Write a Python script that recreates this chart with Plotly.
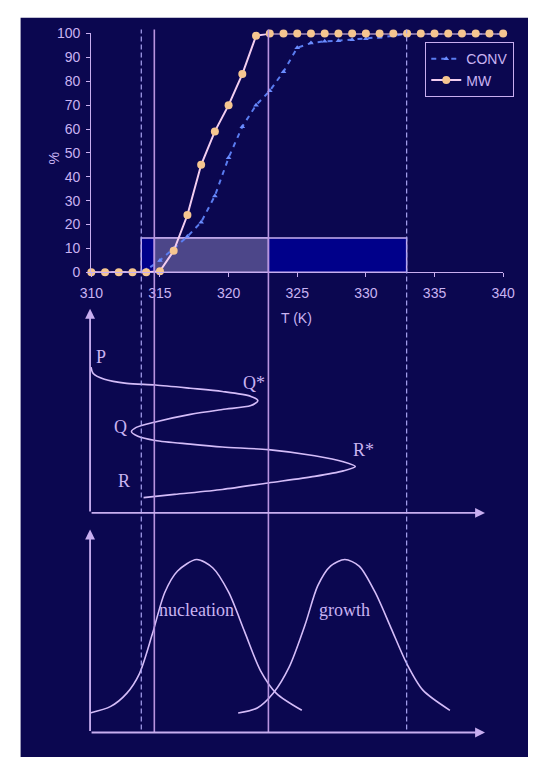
import plotly.graph_objects as go

# ---------------- data ----------------
temps = list(range(310, 341))
mw = [0, 0, 0, 0, 0, 0.5, 9, 24, 45, 59, 70, 83, 99,
      100, 100, 100, 100, 100, 100, 100, 100, 100, 100, 100, 100, 100, 100, 100, 100, 100, 100]
conv = [0, 0, 0, 0, 1, 5, 10, 15, 21, 32, 48, 61, 70, 76, 84, 94,
        96, 96.7, 97, 97.4, 97.8, 98.4, 99, 100, 100, 100, 100, 100, 100, 100, 100]

x_ticks = [310, 315, 320, 325, 330, 335, 340]
y_ticks = list(range(0, 101, 10))

# temperature markers (K)
dashed_T = [313.64, 332.97]
solid_T = [314.59, 322.9]
window_T = [313.64, 332.97]
overlay_T = [314.59, 322.9]
window_height = 14.4

# schematic energy profile (energy, reaction coordinate) – arbitrary units
rc_energy = [0.024, 0.080, 0.363, 0.927, 1.653, 2.540, 3.347, 4.073, 4.249, 4.073, 3.347,
             2.540, 1.653, 1.169, 1.048, 1.210, 1.653, 2.540, 3.347, 4.515, 5.686, 6.412,
             6.717, 6.412, 5.686, 4.515, 3.347, 2.136, 1.355]
rc_coord = [7.15, 6.83, 6.55, 6.35, 6.27, 6.11, 5.95, 5.71, 5.50, 5.26, 5.07,
            4.83, 4.46, 4.19, 3.98, 3.76, 3.55, 3.37, 3.23, 3.10, 2.80, 2.51,
            2.27, 2.06, 1.79, 1.47, 1.15, 0.91, 0.75]
rc_labels = ["P", "Q*", "Q", "R*", "R"]
rc_label_e = [0.266, 4.152, 0.765, 6.934, 0.871]
rc_label_c = [7.63, 6.35, 4.22, 3.07, 1.55]

# schematic nucleation / growth rate curves (temperature, rate) – arbitrary units
nuc_t = [0, 0.523, 0.927, 1.248, 1.573, 1.894, 2.216, 2.700, 3.104, 3.508, 3.910, 4.314, 4.718, 5.362]
nuc_r = [0.965, 1.288, 1.930, 2.894, 4.824, 6.913, 7.960, 8.524, 8.119, 6.913, 4.983, 3.054, 1.930, 1.095]
gro_t = [3.750, 4.234, 4.636, 5.040, 5.444, 5.766, 6.088, 6.451, 6.813, 7.217, 7.621, 8.023, 8.427, 9.112]
gro_r = [0.965, 1.206, 1.930, 3.218, 5.306, 7.236, 8.201, 8.524, 8.201, 6.913, 5.147, 3.377, 2.089, 1.095]

# ---------------- styles ----------------
BG = "#0b0750"
TEXT = "#c9b3f2"
AXIS = "#c8aef0"
CURVE = "#d4bcf8"
VSOLID = "#b894e0"
VDASH = "#a9a4f2"
MW_LINE = "#f2cdf0"
MW_MARK = "#f6c690"
CONV_C = "#5a7cf0"
SANS = "Liberation Sans, Arial, sans-serif"
SERIF = "Liberation Serif, Times New Roman, serif"

W, H = 540, 765

fig = go.Figure()

fig.add_trace(go.Scatter(
    x=temps, y=conv, name="CONV", mode="lines+markers",
    line=dict(color=CONV_C, width=2, dash="5px,5px"),
    marker=dict(symbol="triangle-up", size=5, color="#6b8cff"),
    cliponaxis=False, xaxis="x", yaxis="y"))
fig.add_trace(go.Scatter(
    x=temps, y=mw, name="MW", mode="lines+markers",
    line=dict(color=MW_LINE, width=2),
    marker=dict(symbol="circle", size=8, color=MW_MARK),
    cliponaxis=False, xaxis="x", yaxis="y"))

# lower diagrams
fig.add_trace(go.Scatter(x=rc_energy, y=rc_coord, mode="lines", showlegend=False,
                         line=dict(color=CURVE, width=1.6, shape="spline", smoothing=0.8),
                         xaxis="x3", yaxis="y2", hoverinfo="skip"))
fig.add_trace(go.Scatter(x=nuc_t, y=nuc_r, mode="lines", showlegend=False,
                         line=dict(color=CURVE, width=1.6, shape="spline", smoothing=0.8),
                         xaxis="x3", yaxis="y3", hoverinfo="skip"))
fig.add_trace(go.Scatter(x=gro_t, y=gro_r, mode="lines", showlegend=False,
                         line=dict(color=CURVE, width=1.6, shape="spline", smoothing=0.8),
                         xaxis="x3", yaxis="y3", hoverinfo="skip"))

shapes = []
# navy background (leaving a white strip on top and left)
shapes.append(dict(type="rect", xref="paper", yref="paper", x0=9 / W, x1=1, y0=0, y1=1 - 10 / H,
                   fillcolor=BG, line=dict(width=0), layer="below"))
# temperature window rectangles
shapes.append(dict(type="rect", xref="x", yref="y", x0=window_T[0], x1=window_T[1], y0=0, y1=window_height,
                   fillcolor="#00008a", line=dict(color=AXIS, width=1.5), layer="below"))
shapes.append(dict(type="rect", xref="x", yref="y", x0=overlay_T[0], x1=overlay_T[1], y0=0, y1=window_height,
                   fillcolor="#4c4689", line=dict(color=AXIS, width=1.5), layer="below"))
# vertical guide lines
for t in dashed_T:
    shapes.append(dict(type="line", xref="x", yref="paper", x0=t, x1=t, y0=1 - 737 / H, y1=1 - 22 / H,
                       line=dict(color=VDASH, width=1.2, dash="5px,3px")))
for t in solid_T:
    shapes.append(dict(type="line", xref="x", yref="paper", x0=t, x1=t, y0=1 - 740 / H, y1=1 - 22 / H,
                       line=dict(color=VSOLID, width=1.6)))

annotations = []
# axis arrows for the schematic panels
for yax in ["y2", "y3"]:
    annotations.append(dict(x=0, y=10, ax=0, ay=0, xref="x3", yref=yax, axref="x3", ayref=yax,
                            text="", showarrow=True, arrowhead=2, arrowsize=1.1, arrowwidth=1.8,
                            arrowcolor=AXIS, standoff=0, startstandoff=0))
    annotations.append(dict(x=10, y=0, ax=0, ay=0, xref="x3", yref=yax, axref="x3", ayref=yax,
                            text="", showarrow=True, arrowhead=2, arrowsize=1.1, arrowwidth=1.8,
                            arrowcolor=AXIS, standoff=0, startstandoff=0))

serif_font = dict(family=SERIF, size=18, color=TEXT)
for lab, e, c in zip(rc_labels, rc_label_e, rc_label_c):
    annotations.append(dict(x=e, y=c, xref="x3", yref="y2", text=lab, showarrow=False,
                            font=serif_font))

annotations += [
    dict(x=-1.043, y=5.47, xref="x3", yref="y2", text="Reaction coordinate", textangle=-90,
         showarrow=False, font=serif_font),
    dict(x=5.483, y=-0.845, xref="x3", yref="y2", text="Energy", showarrow=False, font=serif_font),
    dict(x=2.70, y=6.03, xref="x3", yref="y3", text="nucleation", showarrow=False, font=serif_font),
    dict(x=6.45, y=6.03, xref="x3", yref="y3", text="growth", showarrow=False, font=serif_font),
    dict(x=-0.977, y=5.15, xref="x3", yref="y3", text="Nucleation/growth rate", textangle=-90,
         showarrow=False, font=serif_font),
    dict(x=6.088, y=-0.772, xref="x3", yref="y3", text="Temperature", showarrow=False, font=serif_font),
    # top chart axis titles
    dict(x=33 / W, y=1 - 146 / H, xref="paper", yref="paper", text="%", textangle=-90,
         showarrow=False, font=dict(family=SANS, size=14, color=TEXT)),
    dict(x=298 / W, y=1 - 317 / H, xref="paper", yref="paper", text="T (K)",
         showarrow=False, font=dict(family=SANS, size=14, color=TEXT)),
]

fig.update_layout(
    width=W, height=H, autosize=False,
    margin=dict(l=0, r=0, t=0, b=0),
    paper_bgcolor="white", plot_bgcolor="rgba(0,0,0,0)",
    font=dict(family=SANS, size=14, color=TEXT),
    showlegend=True,
    legend=dict(x=432.5 / W, y=1 - 35 / H, xanchor="left", yanchor="top",
                bgcolor=BG, bordercolor=AXIS, borderwidth=1,
                font=dict(family=SANS, size=14, color=TEXT),
                itemwidth=30, tracegroupgap=0),
    xaxis=dict(domain=[83 / W, 514 / W], range=[310, 340], tickvals=x_ticks,
               showline=True, linecolor=AXIS, linewidth=1.2, ticks="outside", ticklen=4,
               tickcolor=AXIS, showgrid=False, zeroline=False, anchor="y", ticklabelstandoff=4,
               tickfont=dict(family=SANS, size=14, color=TEXT)),
    yaxis=dict(domain=[1 - 270 / H, 1 - 26 / H], range=[0, 100], tickvals=y_ticks,
               showline=True, linecolor=AXIS, linewidth=1.2, ticks="outside", ticklen=4,
               tickcolor=AXIS, showgrid=False, zeroline=False, anchor="x", ticklabelstandoff=3,
               tickfont=dict(family=SANS, size=14, color=TEXT)),
    xaxis3=dict(domain=[81.7 / W, 495 / W], range=[0, 10], visible=False, anchor="y2"),
    yaxis2=dict(domain=[1 - 515.7 / H, 1 - 307.3 / H], range=[0, 10], visible=False, anchor="x3"),
    yaxis3=dict(domain=[1 - 740 / H, 1 - 532.7 / H], range=[0, 10], visible=False, anchor="x3"),
    shapes=shapes, annotations=annotations,
)

fig.write_html(
    "out.html",
    config={"displayModeBar": False},
    post_script="document.body.style.margin='0';document.body.style.overflow='hidden';",
)
